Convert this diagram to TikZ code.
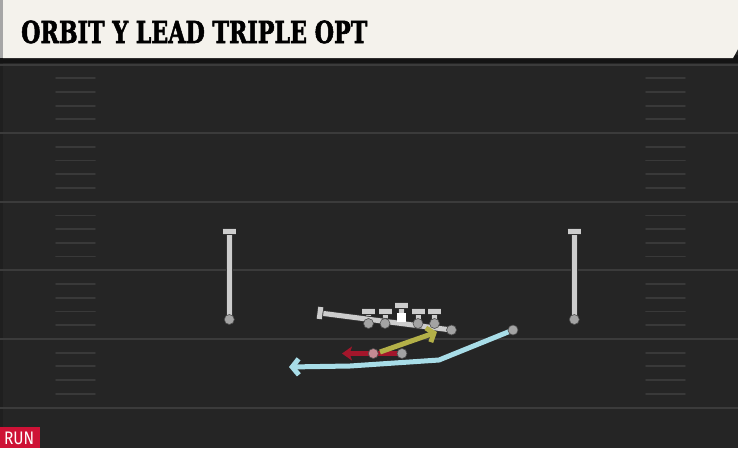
\documentclass[tikz,border=0pt]{standalone}
\usepackage{fontspec}
\usepackage{graphicx}
\usetikzlibrary{arrows.meta}
\newfontfamily\titlefont{DejaVu Serif Condensed}[BoldFeatures={FakeBold=2}]
\newfontfamily\runfont{Fira Sans}
\definecolor{fieldbg}{HTML}{252525}
\definecolor{shadowc}{HTML}{141414}
\definecolor{creamc}{HTML}{F4F2EC}
\definecolor{yardc}{HTML}{3B3B3B}
\definecolor{hashc}{HTML}{393939}
\definecolor{lgray}{HTML}{CDCDCD}
\definecolor{dotgray}{HTML}{A3A3A3}
\definecolor{runred}{HTML}{CE1236}
\definecolor{routeblue}{HTML}{A8DDE8}
\definecolor{routeyel}{HTML}{B3B048}
\definecolor{routered}{HTML}{A3162B}
\definecolor{pinkdot}{HTML}{C48A93}
\tikzset{
  glin/.style={draw=lgray, line width=5pt, line cap=butt, preaction={draw=black!80, line width=6.6pt}},
  pdot/.style={circle, fill=dotgray, draw=black!70, line width=0.6pt, minimum size=10pt, inner sep=0pt},
  ydline/.style={draw=yardc, line width=2pt},
  hashline/.style={draw=hashc, line width=1.8pt, line cap=round},
  routeln/.style={line width=5pt, line join=round},
}
\begin{document}
\begin{tikzpicture}[x=1pt,y=-1pt]
\useasboundingbox (0,0) rectangle (738,448);
\fill[fieldbg] (0,0) rectangle (738,448);
\fill[black!15!fieldbg] (0,60) rectangle (3,448);
% yard lines
\foreach \i in {0,...,5} {
  \draw[ydline] (0,64.5+68.6*\i) -- (738,64.5+68.6*\i);
}
% hash marks
\foreach \i in {0,...,4} {
  \foreach \k in {1,...,4} {
    \draw[hashline] (56,64.5+68.6*\i+13.72*\k) -- (95,64.5+68.6*\i+13.72*\k);
    \draw[hashline] (646,64.5+68.6*\i+13.72*\k) -- (685,64.5+68.6*\i+13.72*\k);
  }
}
% title bar
\fill[shadowc] (0,55) rectangle (738,63);
\fill[creamc] (3,0) -- (738,0) -- (738,49) -- (733,58) -- (3,58) -- cycle;
\fill[black!35] (0,0) rectangle (3,58);
\node[anchor=base west, inner sep=0pt] (title) at (21,43)
  {\resizebox{346pt}{22.5pt}{\titlefont\bfseries ORBIT Y LEAD TRIPLE OPT}};
% RUN badge
\fill[runred] (0,427) rectangle (40,448);
\node[anchor=base west, inner sep=0pt, text=white] (run) at (4,444.5)
  {\resizebox{30pt}{12.5pt}{\runfont RUN}};
% receivers
\coordinate (wl) at (229.3,319.5);
\coordinate (wlT) at (229.3,231.3);
\coordinate (wr) at (574.3,319.5);
\coordinate (wrT) at (574.3,231.3);
\draw[glin] (wl) -- (wlT);
\draw[glin] ([xshift=-6.8pt]wlT) -- ([xshift=6.8pt]wlT);
\draw[glin] (wr) -- (wrT);
\draw[glin] ([xshift=-6.8pt]wrT) -- ([xshift=6.8pt]wrT);
% offensive line
\foreach \n/\x in {a/368.5,b/385,d/418,e/434.5} {
  \coordinate (ol\n) at (\x,323.5);
  \coordinate (ol\n T) at (\x,311.5);
  \draw[glin] (ol\n) -- (ol\n T);
  \draw[glin] ([xshift=-6.5pt]ol\n T) -- ([xshift=6.5pt]ol\n T);
}
\coordinate (olc) at (401.5,317);
\coordinate (olcT) at (401.5,305.5);
\draw[glin] (olc) -- (olcT);
\draw[glin] ([xshift=-6.5pt]olcT) -- ([xshift=6.5pt]olcT);
% Y lead block
\coordinate (yte) at (451.5,330);
\coordinate (yT) at (320,313);
\coordinate (yTa) at (320.8,307);
\coordinate (yTb) at (319.2,319);
\draw[glin] (yte) -- (yT);
\draw[glin] (yTa) -- (yTb);
% backs
\coordinate (qb) at (402,353.5);
\coordinate (rb) at (373.3,353.5);
\coordinate (redend) at (342,353.5);
\coordinate (yelstart) at (380,352);
\coordinate (yelend) at (437,332);
\draw[routeln, routered, -{Stealth[length=10pt,width=14pt,inset=2.5pt]}] (qb) -- (redend);
\draw[routeln, routeyel, -{Straight Barb[length=6pt,width=15pt]}] (yelstart) -- (yelend);
% orbit motion
\coordinate (orb) at (513,330);
\coordinate (orb1) at (439,360);
\coordinate (orb2) at (350,366);
\coordinate (orbend) at (289,367);
\draw[routeln, routeblue, -{Straight Barb[length=6.5pt,width=16pt]}] (orb) -- (orb1) -- (orb2) -- (orbend);
% dots
\foreach \p in {ola,olb,old,ole,yte,wl,wr,qb,orb} {
  \node[pdot] (d\p) at (\p) {};
}
\node[pdot, fill=pinkdot] (drb) at (rb) {};
\node[fill=white, minimum size=9pt, inner sep=0pt] (snap) at (olc) {};
\end{tikzpicture}
\end{document}
